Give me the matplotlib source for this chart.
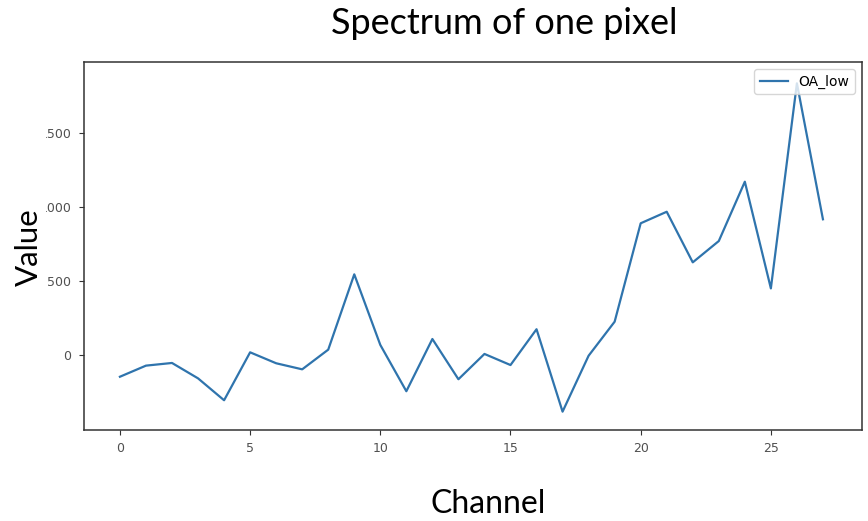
import matplotlib
matplotlib.use("Agg")
import matplotlib.pyplot as plt
from matplotlib.patches import Rectangle

# Spectrum values of a single pixel across 28 channels
channels = list(range(28))
oa_low = [-147, -72, -54, -158, -306, 18, -56, -97, 36, 545,
          68, -245, 108, -164, 7, -68, 174, -383, -5, 225,
          890, 968, 626, 770, 1171, 450, 1836, 917]
x_ticks = [0, 5, 10, 15, 20, 25]
y_ticks = [0, 500, 1000, 1500]

W, H = 868, 521
fig = plt.figure(figsize=(W / 100, H / 100), dpi=100)
ax = fig.add_axes([84 / W, 1 - 430 / H, (862 - 84) / W, (430 - 62) / H])

ax.plot(channels, oa_low, color="#2f74ad", lw=1.6, label="OA_low")
ax.set_xlim(-1.38, 28.5)
ax.set_ylim(-507, 1980)
ax.set_xticks(x_ticks)
ax.set_yticks(y_ticks)

for s in ax.spines.values():
    s.set_color("#333333")
    s.set_linewidth(1.1)
ax.tick_params(colors="#333333", labelcolor="#505050", labelsize=9,
               length=3.5, width=0.8)
ax.tick_params(axis="y", pad=5.5)
ax.tick_params(axis="x", pad=5)

leg = ax.legend(loc="upper right", fontsize=10, frameon=True,
                fancybox=True, borderaxespad=0.5, handlelength=2.0)
leg.get_frame().set_edgecolor("#cccccc")

# the left edge of the plot is cut off, hiding the leading digit of wide labels
fig.add_artist(Rectangle((0, 0), 46 / W, 1, transform=fig.transFigure,
                         facecolor="white", edgecolor="none", zorder=5))

fig.text(504 / W, 1 - 24 / H, "Spectrum of one pixel", family="Lato",
         fontsize=26, ha="center", va="center", color="black", zorder=6)
fig.text(29 / W, 1 - 247 / H, "Value", family="Lato", fontsize=22.5,
         rotation=90, ha="center", va="center", color="black", zorder=6)
fig.text(488 / W, 1 - 504 / H, "Channel", family="Lato", fontsize=23,
         ha="center", va="center", color="black", zorder=6)

fig.savefig("out.png", dpi=100, facecolor="white")
